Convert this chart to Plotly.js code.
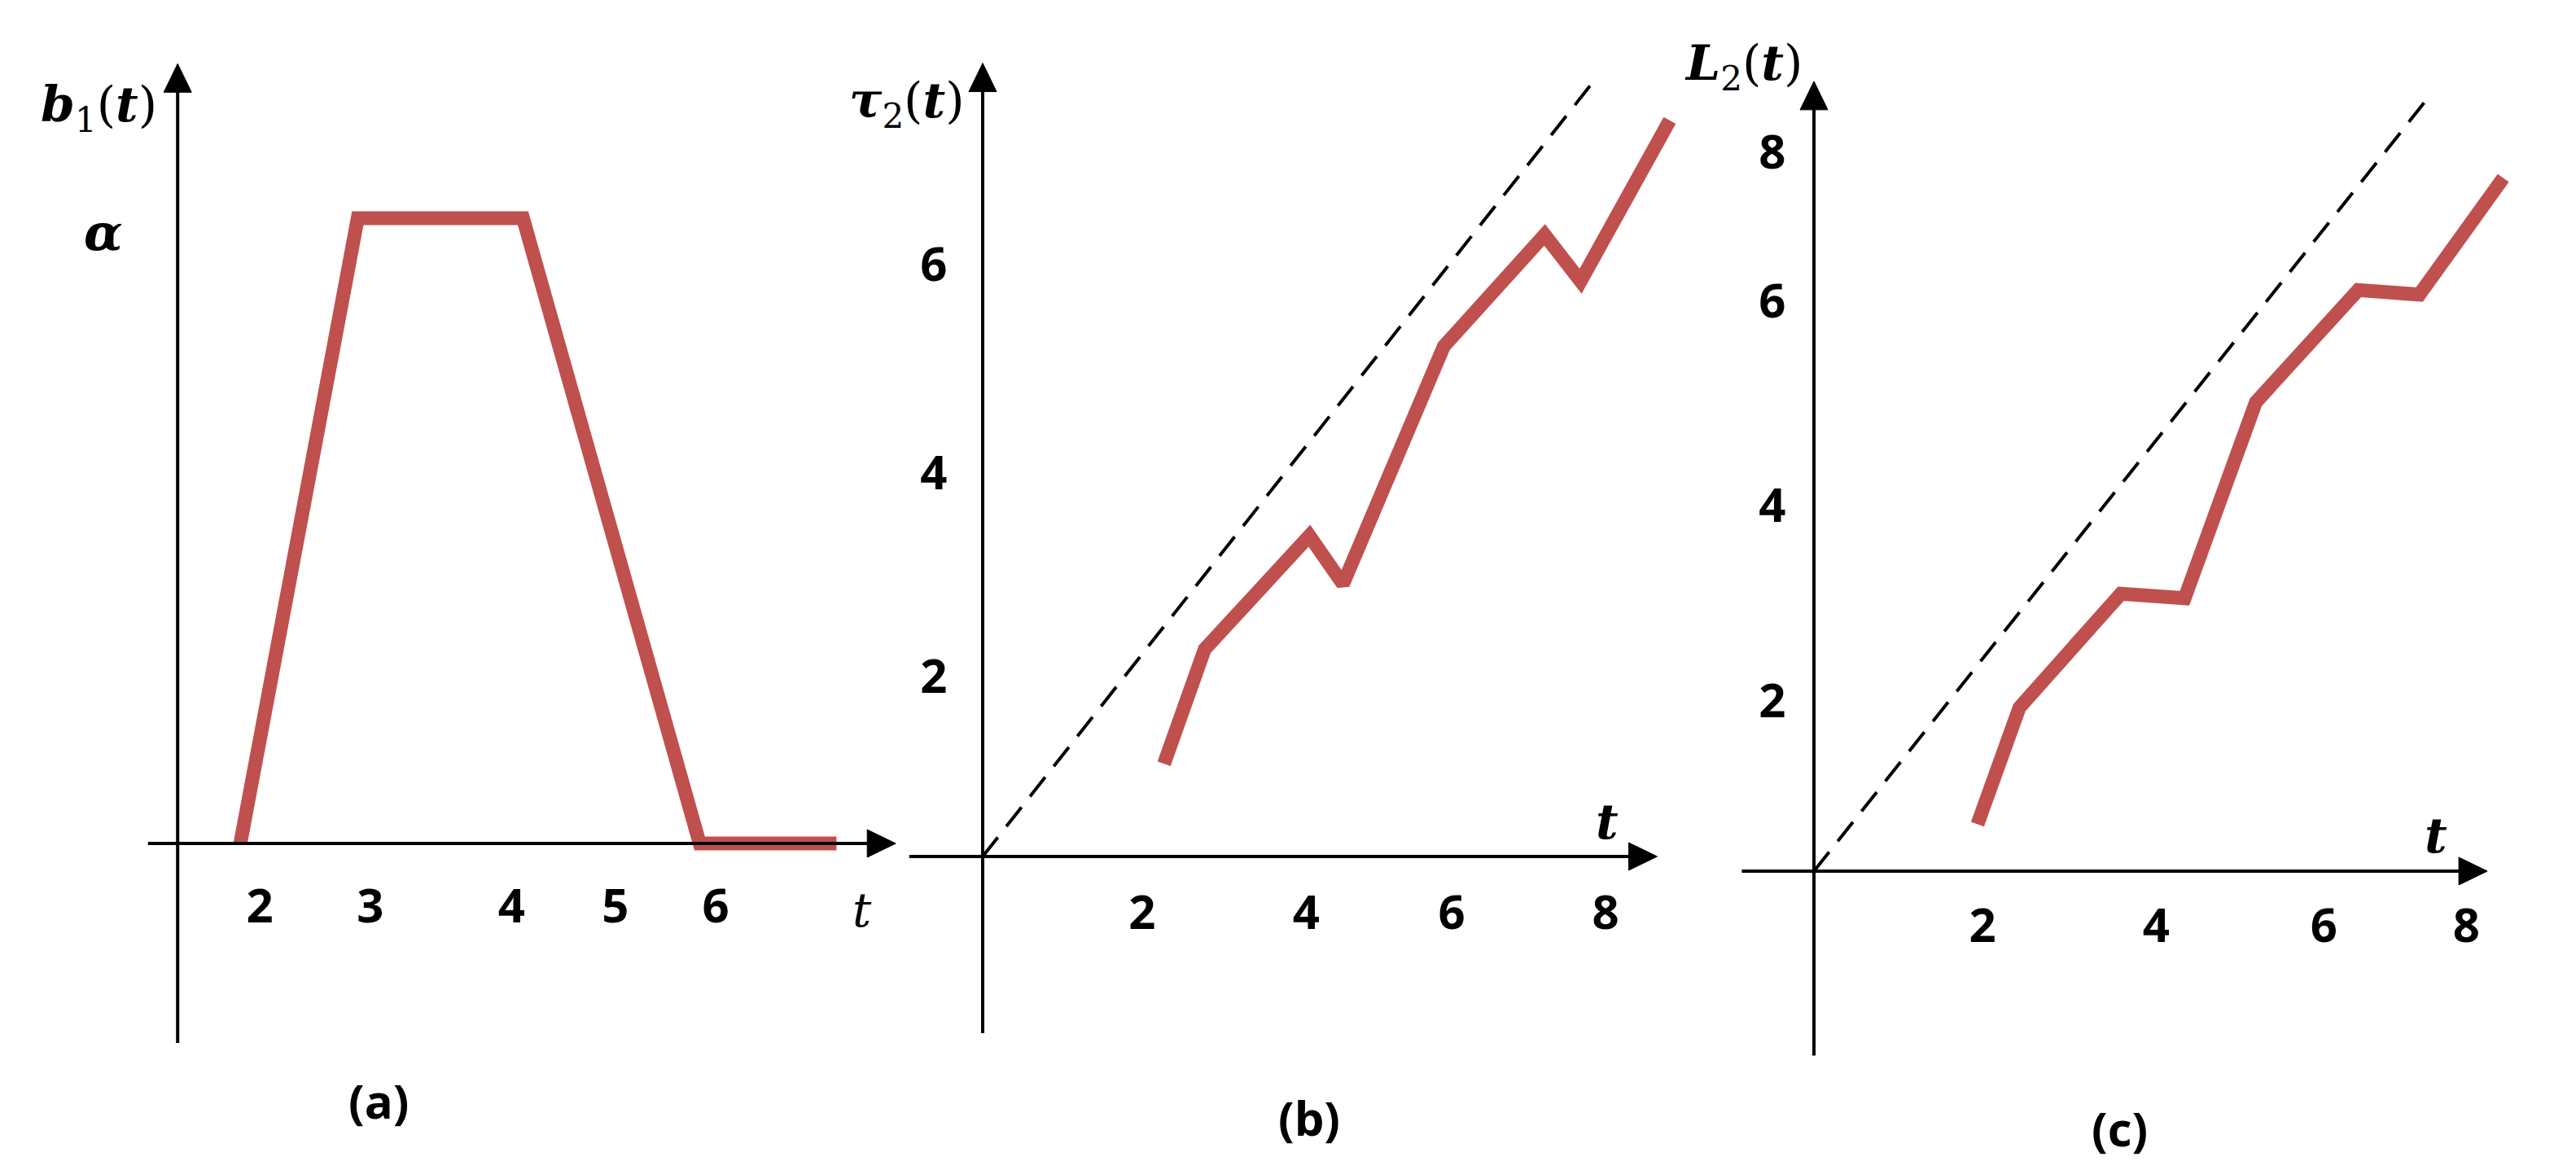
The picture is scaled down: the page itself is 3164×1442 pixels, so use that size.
<!DOCTYPE html>
<html><head><meta charset="utf-8">
<script src="https://cdn.plot.ly/plotly-3.0.1.min.js"></script>
<style>html,body{margin:0;padding:0;background:#fff;} #chart{width:3164px;height:1442px;}</style>
</head><body><div id="chart"></div>
<script>
// ================= DATA =================
// (a) b1(t): trapezoid pulse, height alpha (y in units of alpha)
const aT = [1.83, 2.86, 4.31, 5.86, 7.06];
const aB = [0, 1, 1, 0, 0];
const aXTickVals = [2.0, 2.97, 4.21, 5.12, 6.0];
const aXTickText = ['2', '3', '4', '5', '6'];
const aYTickVals = [0.978];
const aYTickText = ['α'];

// (b) tau2(t)
const bT   = [2.32, 2.84, 4.18, 4.61, 5.90, 7.19, 7.65, 8.79];
const bTau = [0.94, 2.10, 3.25, 2.76, 5.17, 6.30, 5.83, 7.46];
const bRefT = [0, 7.81];
const bRefY = [0, 7.85];
const bXTickVals = [2.04, 4.14, 6.0, 7.97];
const bXTickText = ['2', '4', '6', '8'];
const bYTickVals = [1.83, 3.89, 6.0];
const bYTickText = ['2', '4', '6'];

// (c) L2(t)
const cT  = [1.95, 2.45, 3.66, 4.42, 5.27, 6.49, 7.22, 8.22];
const cL2 = [0.52, 1.81, 3.07, 3.02, 5.19, 6.43, 6.38, 7.67];
const cRefT = [0, 7.36];
const cRefY = [0, 8.60];
const cXTickVals = [2.01, 4.08, 6.08, 7.78];
const cXTickText = ['2', '4', '6', '8'];
const cYTickVals = [1.89, 4.05, 6.31, 7.96];
const cYTickText = ['2', '4', '6', '8'];

// ================= LAYOUT GEOMETRY =================
const W = 3164, H = 1442;
const RED = 'rgb(192,80,77)';
const panels = [
  {L: 0,    R: 1108, X0: 39,   Y0: 1036, kx: 140, ky: 768,
   yAxisAt: 1.28, xAxis: [1.02, 7.58], yAxis: [-0.319, 1.247]},
  {L: 1108, R: 2088, X0: 1207, Y0: 1052, kx: 96,  ky: 121.2,
   yAxisAt: 0, xAxis: [-0.94, 8.63], yAxis: [-1.79, 8.04]},
  {L: 2088, R: 3164, X0: 2228, Y0: 1070, kx: 103, ky: 111,
   yAxisAt: 0, xAxis: [-0.86, 8.03], yAxis: [-2.04, 8.74]}
];

const tickFont = {family: 'Open Sans, DejaVu Sans, sans-serif', size: 58, color: '#000', weight: 700};
const mathFont = {family: 'DejaVu Serif, serif', size: 60, color: '#000'};

function xAxisCfg(p, vals, text, ticklen) {
  return {
    domain: [p.L / W, p.R / W],
    range: [(p.L - p.X0) / p.kx, (p.R - p.X0) / p.kx],
    anchor: 'free', position: 1 - p.Y0 / H, side: 'bottom',
    tickmode: 'array', tickvals: vals, ticktext: text,
    ticks: 'outside', ticklen: ticklen, tickcolor: 'rgba(0,0,0,0)',
    tickfont: tickFont, showgrid: false, zeroline: false, showline: false, fixedrange: true
  };
}
function yAxisCfg(p, vals, text, ticklen, font) {
  const xAxisPx = p.X0 + p.yAxisAt * p.kx;
  return {
    domain: [0, 1],
    range: [(p.Y0 - H) / p.ky, p.Y0 / p.ky],
    anchor: 'free', position: xAxisPx / W, side: 'left',
    tickmode: 'array', tickvals: vals, ticktext: text,
    ticks: 'outside', ticklen: ticklen, tickcolor: 'rgba(0,0,0,0)',
    tickfont: font, showgrid: false, zeroline: false, showline: false, fixedrange: true
  };
}

const traces = [
  {x: aT, y: aB, xaxis: 'x', yaxis: 'y', mode: 'lines', line: {color: RED, width: 17}, hoverinfo: 'skip'},
  {x: bRefT, y: bRefY, xaxis: 'x2', yaxis: 'y2', mode: 'lines', line: {color: '#000', width: 4, dash: '30px,17px'}, hoverinfo: 'skip'},
  {x: bT, y: bTau, xaxis: 'x2', yaxis: 'y2', mode: 'lines', line: {color: RED, width: 17}, hoverinfo: 'skip'},
  {x: cRefT, y: cRefY, xaxis: 'x3', yaxis: 'y3', mode: 'lines', line: {color: '#000', width: 4, dash: '30px,17px'}, hoverinfo: 'skip'},
  {x: cT, y: cL2, xaxis: 'x3', yaxis: 'y3', mode: 'lines', line: {color: RED, width: 17}, hoverinfo: 'skip'}
];

// axis lines with filled arrowheads (shapes in each panel's data coordinates)
const shapes = [];
const refs = [['x', 'y'], ['x2', 'y2'], ['x3', 'y3']];
const HEAD_LEN = 35, HEAD_HALF = 17;
panels.forEach((p, i) => {
  const [xr, yr] = refs[i];
  const hx = p.xAxis[1], hy = p.yAxis[1], ya = p.yAxisAt;
  // x-axis line (stops at arrow base)
  shapes.push({type: 'line', xref: xr, yref: yr, x0: p.xAxis[0], y0: 0, x1: hx - HEAD_LEN / p.kx * 0.6, y1: 0,
               line: {color: '#000', width: 4}});
  shapes.push({type: 'path', xref: xr, yref: yr, fillcolor: '#000', line: {color: '#000', width: 1},
               path: `M${hx},0 L${hx - HEAD_LEN / p.kx},${HEAD_HALF / p.ky} L${hx - HEAD_LEN / p.kx},${-HEAD_HALF / p.ky} Z`});
  // y-axis line
  shapes.push({type: 'line', xref: xr, yref: yr, x0: ya, y0: p.yAxis[0], x1: ya, y1: hy - HEAD_LEN / p.ky * 0.6,
               line: {color: '#000', width: 4}});
  shapes.push({type: 'path', xref: xr, yref: yr, fillcolor: '#000', line: {color: '#000', width: 1},
               path: `M${ya},${hy} L${ya - HEAD_HALF / p.kx},${hy - HEAD_LEN / p.ky} L${ya + HEAD_HALF / p.kx},${hy - HEAD_LEN / p.ky} Z`});
});

const annotations = [];
function lab(text, px, py, font) {
  annotations.push({xref: 'paper', yref: 'paper', x: px / W, y: 1 - py / H, text: text,
    showarrow: false, xanchor: 'center', yanchor: 'middle', font: font});
}
const mathB = Object.assign({}, mathFont, {weight: 700, style: 'italic'});
const mathI = Object.assign({}, mathFont, {weight: 400, style: 'italic', size: 58});
const capFont = {family: 'Open Sans, DejaVu Sans, sans-serif', size: 58, color: '#000', weight: 700};
const up = s => `<span style="font-style:normal;font-weight:normal">${s}</span>`;
lab(`<b><i>b</i></b>${up('<sub>1</sub>(')}<b><i>t</i></b>${up(')')}`, 121, 133, mathFont);
lab(`<b><i>τ</i></b>${up('<sub>2</sub>(')}<b><i>t</i></b>${up(')')}`, 1114, 128, mathFont);
lab(`<b><i>L</i></b>${up('<sub>2</sub>(')}<b><i>t</i></b>${up(')')}`, 2141, 82, mathFont);
lab('t', 1059, 1118, mathI);
lab('t', 1974, 1009, mathB);
lab('t', 2992, 1026, mathB);
lab('(a)', 465, 1351, capFont);
lab('(b)', 1608, 1372, capFont);
lab('(c)', 2603, 1385, capFont);

const layout = {
  width: W, height: H, margin: {l: 0, r: 0, t: 0, b: 0},
  paper_bgcolor: '#fff', plot_bgcolor: 'rgba(0,0,0,0)', showlegend: false,
  xaxis:  xAxisCfg(panels[0], aXTickVals, aXTickText, 26),
  yaxis:  yAxisCfg(panels[0], aYTickVals, aYTickText, 55, Object.assign({}, mathB, {size: 62})),
  xaxis2: xAxisCfg(panels[1], bXTickVals, bXTickText, 18),
  yaxis2: yAxisCfg(panels[1], bYTickVals, bYTickText, 32, tickFont),
  xaxis3: xAxisCfg(panels[2], cXTickVals, cXTickText, 16),
  yaxis3: yAxisCfg(panels[2], cYTickVals, cYTickText, 23, tickFont),
  shapes: shapes,
  annotations: annotations
};

Plotly.newPlot('chart', traces, layout, {staticPlot: true, displayModeBar: false});
</script></body></html>
